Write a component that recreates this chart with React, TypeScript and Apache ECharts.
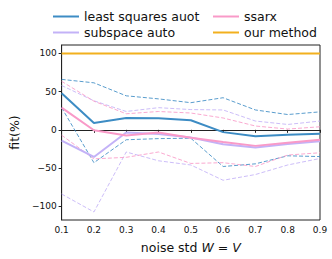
import React, { useEffect, useRef } from "react";
import * as echarts from "echarts";

const noise = [0.1, 0.2, 0.3, 0.4, 0.5, 0.6, 0.7, 0.8, 0.9];
const lsMean = [48, 9, 15.5, 15, 12.5, -3, -8.5, -6.5, -5];
const lsUpper = [66, 61.5, 44.5, 40.5, 35.5, 42, 26, 20, 23.5];
const lsLower = [29, -43, -13, -11.5, -11, -48, -44.5, -34, -35];
const subMean = [-14, -35.5, -3.5, -5.5, -10, -19, -23, -18.5, -15];
const subUpper = [58, 38, 24, 29, 26.5, 26, 11.5, 7, 11.5];
const subLower = [-84, -107.5, -29, -40.5, -46, -66, -58.5, -46, -37.5];
const ssMean = [29, -0.5, -7.5, -3.5, -10.5, -16, -21, -17, -13];
const ssUpper = [63.5, 37.5, 21, 24, 22, 15.5, 5, 1, 4];
const ssLower = [-7, -38, -36, -29, -44, -43, -48, -33, -30];
const ours = [100, 100, 100, 100, 100, 100, 100, 100, 100];
const yTicks = [-100, -50, 0, 50, 100];

const BLUE = "#3d8cc4";
const LAV = "#c3b2f7";
const PINK = "#f99ac8";
const ORANGE = "#f2b01e";

const pair = (arr: number[]) => noise.map((x, i) => [x, arr[i]]);

export default function App() {
  const ref = useRef<HTMLDivElement>(null);
  useEffect(() => {
    const chart = echarts.init(ref.current!, null, { renderer: "svg" });
    const solid = (name: string, data: number[], color: string, z = 3) => ({
      name,
      type: "line",
      data: pair(data),
      symbol: "none",
      color,
      z,
      lineStyle: { color, width: 2 },
    });
    const dashed = (name: string, data: number[], color: string) => ({
      name,
      type: "line",
      data: pair(data),
      symbol: "none",
      color,
      z: 2,
      lineStyle: { color, width: 1, type: [4, 2], opacity: 0.85 },
    });
    const font = "DejaVu Sans";
    const legendCommon = {
      orient: "vertical",
      top: 5,
      itemWidth: 26,
      itemHeight: 2,
      itemGap: 3,
      icon: "rect",
      textStyle: { fontFamily: font, fontSize: 12.5, color: "#111" },
    };
    chart.setOption({
      animation: false,
      textStyle: { fontFamily: font },
      grid: {
        left: 48,
        right: 12,
        top: 45,
        bottom: 34,
        show: true,
        borderColor: "#222",
        borderWidth: 1,
        backgroundColor: "transparent",
      },
      legend: [
        { ...legendCommon, left: 48, data: ["least squares auot", "subspace auto"] },
        { ...legendCommon, left: 208, data: ["ssarx", "our method"] },
      ],
      xAxis: {
        type: "value",
        min: 0.1,
        max: 0.9,
        interval: 0.1,
        name: "noise std {i|W} = {i|V}",
        nameLocation: "middle",
        nameGap: 21,
        nameTextStyle: {
          fontFamily: font,
          fontSize: 12.5,
          color: "#111",
          rich: { i: { fontStyle: "italic", fontSize: 12.5, fontFamily: font, color: "#111" } },
        },
        axisLine: { lineStyle: { color: "#222" } },
        axisTick: { lineStyle: { color: "#222" }, length: 3 },
        splitLine: { show: false },
        axisLabel: {
          fontSize: 9,
          color: "#111",
          margin: 5,
          formatter: (v: number) => v.toFixed(1),
        },
      },
      yAxis: {
        type: "value",
        min: -118,
        max: 111,
        name: "fit(%)",
        nameLocation: "middle",
        nameGap: 33,
        nameRotate: 90,
        nameTextStyle: { fontFamily: font, fontSize: 12.5, color: "#111" },
        axisLine: { show: true, lineStyle: { color: "#222" } },
        axisTick: { show: true, length: 3, lineStyle: { color: "#222" }, customValues: yTicks },
        splitLine: { show: false },
        axisLabel: {
          fontSize: 9,
          color: "#111",
          margin: 5,
          customValues: yTicks,
          formatter: (v: number) => (v < 0 ? "\u2212" + Math.abs(v) : String(v)),
        },
      },
      series: [
        dashed("ls_hi", lsUpper, BLUE),
        dashed("ls_lo", lsLower, BLUE),
        dashed("sub_hi", subUpper, LAV),
        dashed("sub_lo", subLower, LAV),
        dashed("ss_hi", ssUpper, PINK),
        dashed("ss_lo", ssLower, PINK),
        solid("least squares auot", lsMean, BLUE),
        solid("subspace auto", subMean, LAV),
        solid("ssarx", ssMean, PINK),
        solid("our method", ours, ORANGE, 4),
      ],
    });
    return () => chart.dispose();
  }, []);
  return <div ref={ref} style={{ width: 332, height: 259, position: "absolute", left: 0, top: 0 }} />;
}
